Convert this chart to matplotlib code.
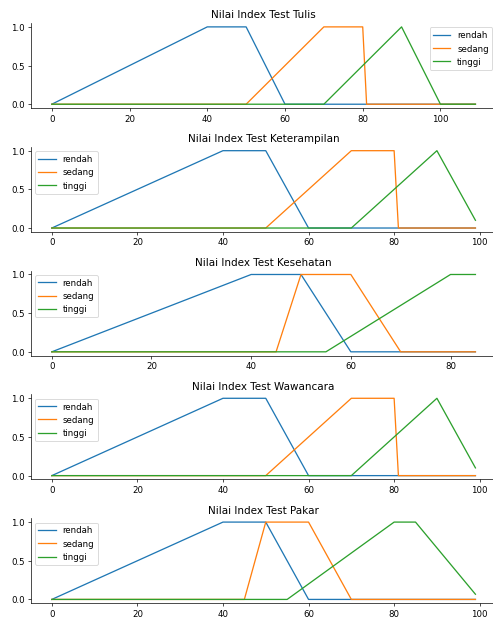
import matplotlib.pyplot as plt

# -----------------------------
# 1. MEMBERSHIP BREAKPOINTS (x, y) per test
# -----------------------------
titles = ["Nilai Index Test Tulis",
          "Nilai Index Test Keterampilan",
          "Nilai Index Test Kesehatan",
          "Nilai Index Test Wawancara",
          "Nilai Index Test Pakar"]

labels = ["rendah", "sedang", "tinggi"]

tulis_rendah_x = [0, 40, 50, 60, 109]
tulis_rendah_y = [0, 1, 1, 0, 0]
tulis_sedang_x = [0, 50, 70, 80, 81, 109]
tulis_sedang_y = [0, 0, 1, 1, 0, 0]
tulis_tinggi_x = [0, 70, 90, 100, 109]
tulis_tinggi_y = [0, 0, 1, 0, 0]

ket_rendah_x = [0, 40, 50, 60, 99]
ket_rendah_y = [0, 1, 1, 0, 0]
ket_sedang_x = [0, 50, 70, 80, 81, 99]
ket_sedang_y = [0, 0, 1, 1, 0, 0]
ket_tinggi_x = [0, 70, 90, 99]
ket_tinggi_y = [0, 0, 1, 0.1]

kes_rendah_x = [0, 40, 50, 60, 85]
kes_rendah_y = [0, 1, 1, 0, 0]
kes_sedang_x = [0, 45, 50, 60, 70, 85]
kes_sedang_y = [0, 0, 1, 1, 0, 0]
kes_tinggi_x = [0, 55, 80, 85]
kes_tinggi_y = [0, 0, 1, 1]

waw_rendah_x = [0, 40, 50, 60, 99]
waw_rendah_y = [0, 1, 1, 0, 0]
waw_sedang_x = [0, 50, 70, 80, 81, 99]
waw_sedang_y = [0, 0, 1, 1, 0, 0]
waw_tinggi_x = [0, 70, 90, 99]
waw_tinggi_y = [0, 0, 1, 0.1]

pak_rendah_x = [0, 40, 50, 60, 99]
pak_rendah_y = [0, 1, 1, 0, 0]
pak_sedang_x = [0, 45, 50, 60, 70, 99]
pak_sedang_y = [0, 0, 1, 1, 0, 0]
pak_tinggi_x = [0, 55, 80, 85, 99]
pak_tinggi_y = [0, 0, 1, 1, 0.067]

curves = [
    [(tulis_rendah_x, tulis_rendah_y), (tulis_sedang_x, tulis_sedang_y), (tulis_tinggi_x, tulis_tinggi_y)],
    [(ket_rendah_x, ket_rendah_y), (ket_sedang_x, ket_sedang_y), (ket_tinggi_x, ket_tinggi_y)],
    [(kes_rendah_x, kes_rendah_y), (kes_sedang_x, kes_sedang_y), (kes_tinggi_x, kes_tinggi_y)],
    [(waw_rendah_x, waw_rendah_y), (waw_sedang_x, waw_sedang_y), (waw_tinggi_x, waw_tinggi_y)],
    [(pak_rendah_x, pak_rendah_y), (pak_sedang_x, pak_sedang_y), (pak_tinggi_x, pak_tinggi_y)],
]
legend_locs = ["upper right", "upper left", "upper left", "upper left", "upper left"]

# -----------------------------
# 2. PLOTTING
# -----------------------------
W, H = 493, 618
fig, axes = plt.subplots(nrows=5, figsize=((W + 0.5) / 62, (H + 0.5) / 62), dpi=62)

# axes placement in pixels
left_px, width_px = 30.6, 465.5
top_px, step_px, height_px = 23.5, 123.7, 85.0

for i, (ax, title, sets, loc) in enumerate(zip(axes, titles, curves, legend_locs)):
    top = top_px + i * step_px
    ax.set_position([left_px / W, 1 - (top + height_px) / H, width_px / W, height_px / H])
    for (x, y), lab in zip(sets, labels):
        ax.plot(x, y, linewidth=1.5, label=lab)
    ax.set_title(title)
    ax.legend(loc=loc)
    ax.spines["top"].set_visible(False)
    ax.spines["right"].set_visible(False)
    ax.get_xaxis().tick_bottom()
    ax.get_yaxis().tick_left()

plt.savefig("out.png", dpi=62)
